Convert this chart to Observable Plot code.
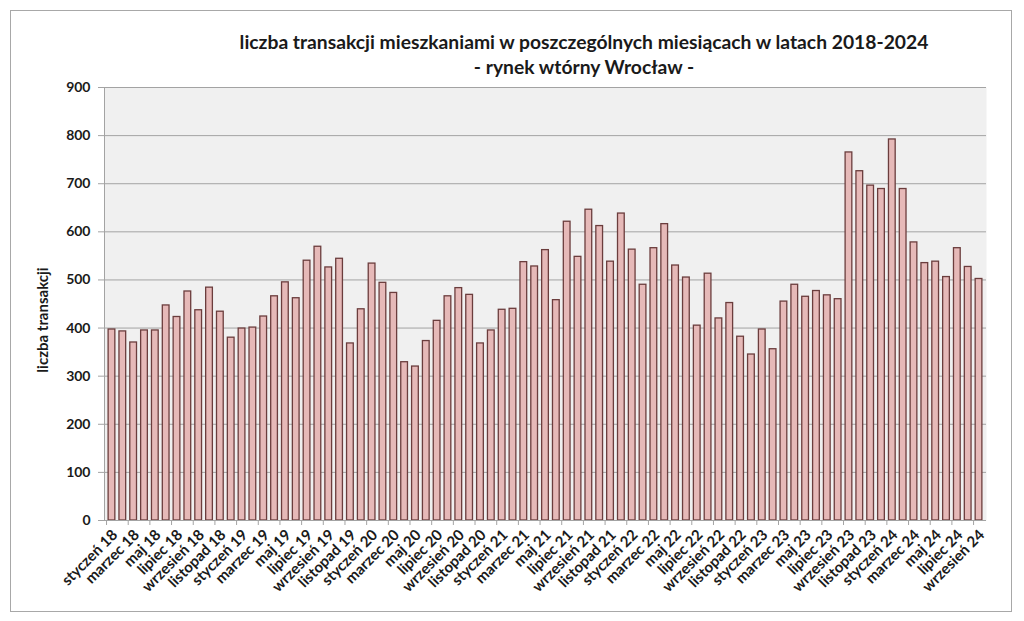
<!DOCTYPE html>
<html>
<head>
<meta charset="utf-8">
<script src="https://cdn.jsdelivr.net/npm/d3@7"></script>
<script src="https://cdn.jsdelivr.net/npm/@observablehq/plot@0.6"></script>
<style>
  body { margin: 0; background: #fff; }
  #wrap { position: relative; width: 1024px; height: 621px; font-family: Lato, "Open Sans", sans-serif; color: #1a1a1a; }
  #frame { position: absolute; left: 10px; top: 10px; width: 1002px; height: 602px; border: 1px solid #a8a8a8; box-sizing: border-box; pointer-events: none; }
  .t { position: absolute; left: 0; width: 1168px; text-align: center; font-weight: bold; font-size: 19.3px; white-space: nowrap; }
  #ylab { position: absolute; left: 42px; top: 320px; transform: translate(-50%, -50%) rotate(-90deg); font-weight: bold; font-size: 15px; white-space: nowrap; }
  svg { display: block; }
</style>
</head>
<body>
<div id="wrap">
  <div id="chart"></div>
  <div class="t" style="top:30px">liczba transakcji mieszkaniami w poszczególnych miesiącach w latach 2018-2024</div>
  <div class="t" style="top:55px">- rynek wtórny Wrocław -</div>
  <div id="ylab">liczba transakcji</div>
  <div id="frame"></div>
</div>
<script>
const monthNames = ["styczeń","luty","marzec","kwiecień","maj","czerwiec","lipiec","sierpień","wrzesień","październik","listopad","grudzień"];
const years = ["18","19","20","21","22","23","24"];
const values2018 = [397,393,370,395,395,447,423,476,437,484,434,380];
const values2019 = [399,401,424,466,495,462,540,569,526,544,368,439];
const values2020 = [534,494,473,329,320,373,415,466,483,469,368,395];
const values2021 = [438,440,537,528,562,458,621,548,646,612,538,638];
const values2022 = [563,490,566,616,530,505,405,513,420,452,382,345];
const values2023 = [397,356,455,490,465,477,468,460,765,726,696,689];
const values2024 = [792,689,578,535,538,506,566,527,502];
const yTicks = [0,100,200,300,400,500,600,700,800,900];

const series = [values2018, values2019, values2020, values2021, values2022, values2023, values2024];
const data = [];
series.forEach((vals, yi) => vals.forEach((v, mi) => data.push({label: monthNames[mi] + " " + years[yi], value: v})));
const labels = data.map(d => d.label);
const shownLabels = labels.filter((d, i) => i % 2 === 0);

const W = 1024, H = 621, mL = 104, mR = 38;
const step = (W - mL - mR) / labels.length;

const chart = Plot.plot({
  width: W,
  height: H,
  marginLeft: mL,
  marginRight: mR,
  marginTop: 87,
  marginBottom: 101,
  style: {fontFamily: "Lato, 'Open Sans', sans-serif", color: "#1a1a1a", background: "transparent"},
  x: {domain: labels, padding: 0.38, label: null},
  y: {domain: [0, 900], label: null},
  marks: [
    Plot.frame({fill: "#f0f0f0", stroke: null}),
    Plot.gridY(yTicks, {stroke: "#a3a3a3", strokeOpacity: 1, strokeWidth: 1}),
    Plot.barY(data, {x: "label", y: "value", fill: "#e6b9b8", stroke: "#6b3d3d", strokeWidth: 1.3}),
    Plot.ruleY([0], {stroke: "#a3a3a3"}),
    Plot.frame({anchor: "left", stroke: "#a3a3a3"}),
    Plot.axisY({ticks: yTicks, tickSize: 6, tickPadding: 8, stroke: "#a3a3a3", fontSize: 14, fontWeight: "bold", label: null}),
    Plot.axisX({ticks: shownLabels, tickSize: 5, tickFormat: () => "", dx: -step / 2, stroke: "#a3a3a3", label: null}),
    Plot.axisX({ticks: shownLabels, tickSize: 0, tickPadding: 12, dx: 3, tickRotate: -45, fontSize: 15, fontWeight: "bold", label: null})
  ]
});
document.getElementById("chart").append(chart);
</script>
</body>
</html>
